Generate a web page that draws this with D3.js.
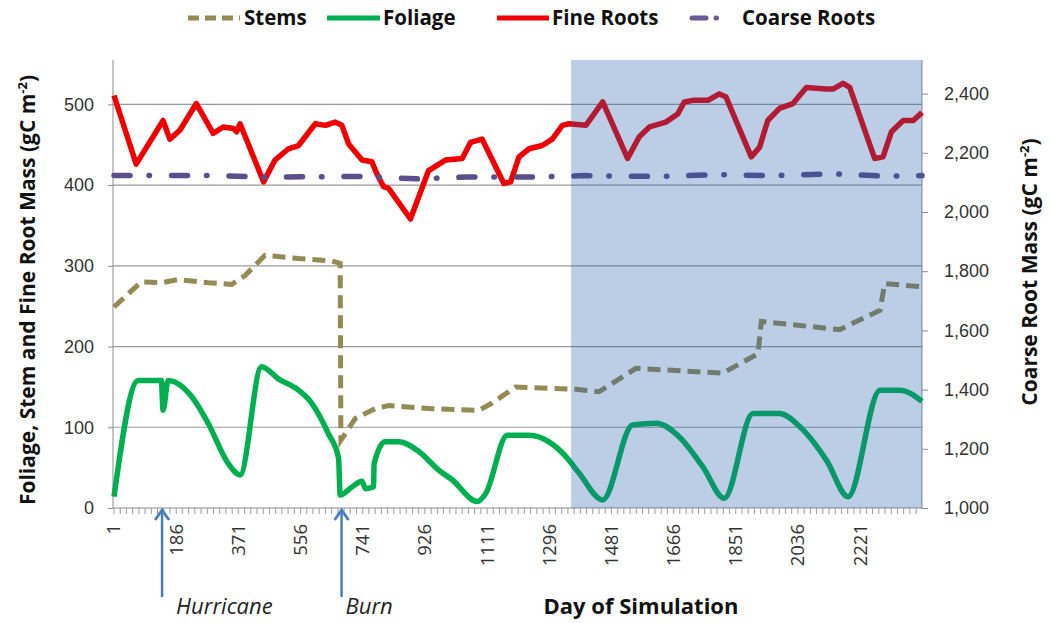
<!DOCTYPE html>
<html>
<head>
<meta charset="utf-8">
<script src="https://cdn.jsdelivr.net/npm/d3@7"></script>
<style>
  body { margin: 0; background: #fff; }
  svg { font-family: "Open Sans", "DejaVu Sans", sans-serif; }
</style>
</head>
<body>
<div id="container"></div>
<script>
// data (day, value)
var stemDays   = [1, 82, 142, 192, 281, 351, 391, 450, 550, 649, 674, 676, 689, 719, 778, 818, 947, 1087, 1126, 1196, 1375, 1444, 1554, 1812, 1917, 1927, 2160, 2280, 2294, 2405];
var stemVals   = [249, 280, 279, 283, 279, 277, 288, 313, 309, 306, 303, 84, 92, 111, 123, 127, 123, 121, 130, 150, 147, 144, 173, 167, 191, 231, 221, 245, 278, 274];

var foliageDays = [1, 73, 142, 147, 162, 182, 232, 281, 341, 376, 440, 490, 550, 589, 639, 669, 674, 709, 739, 749, 773, 775, 808, 848, 908, 967, 1007, 1082, 1107, 1171, 1236, 1295, 1345, 1385, 1455, 1544, 1614, 1683, 1753, 1817, 1902, 1981, 2041, 2121, 2185, 2280, 2339, 2405];
var foliageVals = [14, 158, 158, 121, 158, 156, 138, 105, 55, 41, 175, 160, 146, 130, 92, 62, 16, 26, 33, 24, 26, 55, 82, 82, 70, 47, 35, 8, 18, 90, 90, 82, 64, 43, 10, 103, 105, 88, 51, 12, 117, 117, 101, 59, 14, 146, 146, 132];

var fineDays = [1, 67, 147, 167, 197, 246, 296, 326, 356, 366, 376, 446, 480, 520, 550, 600, 630, 659, 679, 699, 739, 768, 783, 803, 818, 883, 937, 987, 1037, 1062, 1096, 1161, 1181, 1206, 1236, 1275, 1305, 1335, 1355, 1405, 1455, 1529, 1564, 1594, 1643, 1678, 1698, 1723, 1768, 1802, 1822, 1897, 1922, 1946, 1981, 2021, 2061, 2120, 2140, 2170, 2190, 2264, 2289, 2314, 2349, 2379, 2405];
var fineVals = [511, 426, 480, 457, 468, 501, 464, 472, 470, 466, 476, 404, 431, 445, 449, 476, 474, 478, 474, 451, 431, 429, 414, 398, 396, 358, 418, 431, 433, 453, 457, 402, 404, 435, 445, 449, 457, 474, 476, 474, 503, 433, 460, 472, 478, 488, 503, 505, 505, 513, 509, 435, 447, 480, 495, 501, 521, 519, 519, 526, 521, 433, 435, 466, 480, 480, 490];

var coarseDays = [1, 300, 450, 750, 900, 1050, 1250, 1400, 1620, 1800, 1960, 2140, 2300, 2405];
var coarseVals = [2123, 2123, 2118, 2120, 2112, 2118, 2118, 2123, 2120, 2126, 2123, 2129, 2121, 2123];

var xTickLabels = [1, 186, 371, 556, 741, 926, 1111, 1296, 1481, 1666, 1851, 2036, 2221];
var leftTicks = [0, 100, 200, 300, 400, 500];
var rightTicks = [1000, 1200, 1400, 1600, 1800, 2000, 2200, 2400];
var shadeRange = [1361, 2405];
var events = [{day: 144, name: "Hurricane", dx: 14}, {day: 678, name: "Burn", dx: 4}];

var width = 1052, height = 623;
var plotL = 113, plotR = 922, plotT = 60, plotB = 508;

var x = d3.scaleLinear().domain([1, 2405]).range([114, plotR]);
var y = d3.scaleLinear().domain([0, 550]).range([plotB, 64]);
var y2 = d3.scaleLinear().domain([1000, 2500]).range([plotB, 64]);

var svg = d3.select("#container").append("svg")
    .attr("width", width)
    .attr("height", height);

// gridlines
svg.append("g").selectAll("line")
    .data(leftTicks.slice(1))
  .enter().append("line")
    .attr("x1", plotL).attr("x2", plotR)
    .attr("y1", d => y(d)).attr("y2", d => y(d))
    .attr("stroke", "#9a9a9a").attr("stroke-width", 1.2);

// left axis
var yAxis = svg.append("g")
    .attr("transform", "translate(" + plotL + ",0)")
    .call(d3.axisLeft(y).tickValues(leftTicks).tickSize(5).tickPadding(14));
yAxis.select(".domain").attr("stroke", "#8c8c8c").attr("d", "M0," + plotT + "V" + plotB);
yAxis.selectAll(".tick line").attr("stroke", "#8c8c8c");
yAxis.selectAll("text").attr("font-size", 18).attr("fill", "#333");

// right axis
var y2Axis = svg.append("g")
    .attr("transform", "translate(" + plotR + ",0)")
    .call(d3.axisRight(y2).tickValues(rightTicks).tickSize(6).tickPadding(16).tickFormat(d3.format(",")));
y2Axis.select(".domain").attr("stroke", "#8c8c8c").attr("d", "M0," + plotT + "V" + plotB);
y2Axis.selectAll(".tick line").attr("stroke", "#8c8c8c");
y2Axis.selectAll("text").attr("font-size", 18).attr("fill", "#333");

// x axis
svg.append("line")
    .attr("x1", plotL).attr("x2", plotR)
    .attr("y1", plotB).attr("y2", plotB)
    .attr("stroke", "#8c8c8c").attr("stroke-width", 1.2);
svg.append("g").selectAll("line")
    .data(d3.range(1, 2406, 18.5))
  .enter().append("line")
    .attr("x1", d => x(d)).attr("x2", d => x(d))
    .attr("y1", plotB).attr("y2", plotB + 6)
    .attr("stroke", "#9a9a9a");
svg.append("g").selectAll("text")
    .data(xTickLabels)
  .enter().append("text")
    .attr("transform", d => "translate(" + x(d) + "," + (plotB + 16) + ") rotate(-90)")
    .attr("text-anchor", "end")
    .attr("dy", "0.35em")
    .attr("font-size", 18.5)
    .attr("fill", "#333")
    .text(d => d);

// series
function series(days, vals, sc, curve) {
  return d3.line()
    .x((d, i) => x(days[i]))
    .y((d, i) => sc(vals[i]))
    .curve(curve)(vals);
}

svg.append("path")
    .attr("d", series(stemDays, stemVals, y, d3.curveLinear))
    .attr("fill", "none").attr("stroke", "#948a54").attr("stroke-width", 5)
    .attr("stroke-dasharray", "13,7");

svg.append("path")
    .attr("d", series(foliageDays, foliageVals, y, d3.curveMonotoneX))
    .attr("fill", "none").attr("stroke", "#00b050").attr("stroke-width", 5.5)
    .attr("stroke-linejoin", "round");

svg.append("path")
    .attr("d", series(fineDays, fineVals, y, d3.curveLinear))
    .attr("fill", "none").attr("stroke", "#f00000").attr("stroke-width", 5.5)
    .attr("stroke-linejoin", "round");

svg.append("path")
    .attr("d", series(coarseDays, coarseVals, y2, d3.curveLinear))
    .attr("fill", "none").attr("stroke", "#5b4e8c").attr("stroke-width", 5.5)
    .attr("stroke-linecap", "round")
    .attr("stroke-dasharray", "16,19,0.5,22");

// shaded period
svg.append("rect")
    .attr("x", x(shadeRange[0])).attr("y", plotT)
    .attr("width", x(shadeRange[1]) - x(shadeRange[0]))
    .attr("height", plotB - plotT)
    .attr("fill", "#205cac").attr("fill-opacity", 0.3);

// event arrows
var ev = svg.append("g").selectAll("g").data(events).enter().append("g");
ev.append("line")
    .attr("x1", d => x(d.day)).attr("x2", d => x(d.day))
    .attr("y1", 597).attr("y2", 511)
    .attr("stroke", "#4a7ebb").attr("stroke-width", 2.5);
ev.append("path")
    .attr("d", d => "M" + (x(d.day) - 7) + ",520L" + x(d.day) + ",510L" + (x(d.day) + 7) + ",520")
    .attr("fill", "none").attr("stroke", "#4a7ebb").attr("stroke-width", 2.8);
ev.append("text")
    .attr("x", d => x(d.day) + d.dx).attr("y", 614)
    .attr("font-size", 22).attr("font-style", "italic").attr("fill", "#222")
    .text(d => d.name);

// axis titles
svg.append("text")
    .attr("x", 641).attr("y", 614)
    .attr("text-anchor", "middle")
    .attr("font-size", 22).attr("font-weight", "bold").attr("fill", "#111")
    .text("Day of Simulation");

var lt = svg.append("text")
    .attr("transform", "translate(35,290) rotate(-90)")
    .attr("text-anchor", "middle")
    .attr("font-size", 21).attr("font-weight", "bold").attr("fill", "#111");
lt.append("tspan").text("Foliage, Stem and Fine Root Mass (gC m");
lt.append("tspan").attr("dy", -8).attr("font-size", 13).text("-2");
lt.append("tspan").attr("dy", 8).text(")");

var rt = svg.append("text")
    .attr("transform", "translate(1037,272) rotate(-90)")
    .attr("text-anchor", "middle")
    .attr("font-size", 21).attr("font-weight", "bold").attr("fill", "#111");
rt.append("tspan").text("Coarse Root Mass (gC m");
rt.append("tspan").attr("dy", -8).attr("font-size", 13).text("-2");
rt.append("tspan").attr("dy", 8).text(")");

// legend
var legendItems = [
  {name: "Stems", color: "#948a54", dash: "11,6", x1: 188, x2: 240, tx: 244},
  {name: "Foliage", color: "#00b050", dash: null, x1: 327, x2: 380, tx: 383},
  {name: "Fine Roots", color: "#f00000", dash: null, x1: 497, x2: 549, tx: 552},
  {name: "Coarse Roots", color: "#6a5b9a", dash: "14,10,0.5,30", x1: 692, x2: 735, tx: 742}
];
var lg = svg.append("g").selectAll("g").data(legendItems).enter().append("g");
lg.append("line")
    .attr("x1", d => d.x1).attr("x2", d => d.x2)
    .attr("y1", 18).attr("y2", 18)
    .attr("stroke", d => d.color).attr("stroke-width", 5)
    .attr("stroke-linecap", d => d.name == "Coarse Roots" ? "round" : "butt")
    .attr("stroke-dasharray", d => d.dash);
lg.append("text")
    .attr("x", d => d.tx).attr("y", 18).attr("dy", "0.35em")
    .attr("font-size", 20.5).attr("font-weight", "bold").attr("fill", "#111")
    .text(d => d.name);
</script>
</body>
</html>
